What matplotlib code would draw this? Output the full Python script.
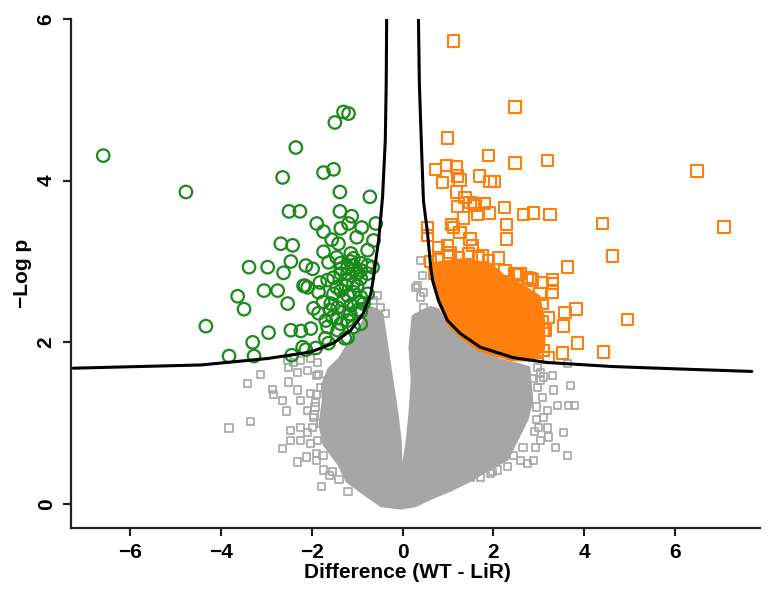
import matplotlib
matplotlib.use("Agg")
import matplotlib.pyplot as plt
import numpy as np

plt.rcParams['font.family'] = ['Liberation Sans', 'DejaVu Sans']

# ---------------- data ----------------
green_x = [-6.59, -4.77, -1.30, -1.19, -1.49, -2.35, -2.64, -1.74, -1.52, -1.38, -0.72,
           -2.50, -2.26, -1.38, -1.12, -1.89, -1.74, -1.36, -1.19, -0.90, -0.59, -1.56,
           -1.41, -1.01, -0.64, -2.68, -2.42, -1.74, -1.45, -1.14, -1.08, -0.92, -0.77,
           -2.46, -2.13, -1.98, -3.38, -2.97, -2.62, -1.63, -1.36, -1.21, -1.08, -2.15,
           -1.82, -3.05, -2.75, -3.63, -3.49, -4.33, -2.53, -2.95, -3.30, -3.82, -3.27,
           -2.46, -2.24, -2.02, -2.44, -2.20, -2.13, -1.91, -1.63, -1.96, -1.85, -2.18,
           -2.09, -1.85, -1.65, -1.43, -1.69, -1.54, -1.36, -1.21, -1.08, -0.92, -1.58,
           -1.43, -1.30, -1.14, -0.99, -0.86, -1.52, -1.36, -1.21, -1.08, -0.92, -0.77,
           -1.65, -1.52, -1.36, -1.21, -1.08, -0.92, -0.77, -1.36, -1.21, -1.08, -0.92,
           -0.77, -0.66, -0.92, -1.21, -1.27, -1.00, -0.97, -1.15, -1.30, -1.45, -1.60,
           -1.25, -1.45, -1.00, -1.15, -1.75, -1.70]
green_y = [4.31, 3.86, 4.85, 4.83, 4.72, 4.41, 4.04, 4.10, 4.14, 3.86, 3.80,
           3.62, 3.62, 3.62, 3.56, 3.47, 3.37, 3.41, 3.47, 3.42, 3.47, 3.27,
           3.22, 3.30, 3.26, 3.22, 3.20, 3.12, 3.05, 3.10, 3.04, 2.98, 3.14,
           3.00, 2.95, 2.91, 2.93, 2.93, 2.86, 2.99, 2.91, 2.85, 2.89, 2.70,
           2.74, 2.64, 2.64, 2.57, 2.41, 2.20, 2.48, 2.12, 2.00, 1.83, 1.83,
           2.15, 2.14, 2.17, 1.84, 1.94, 1.91, 1.93, 1.99, 2.42, 2.36, 2.70,
           2.68, 2.62, 2.19, 2.15, 2.27, 2.31, 2.23, 2.27, 2.19, 2.23, 2.48,
           2.43, 2.52, 2.46, 2.40, 2.48, 2.60, 2.64, 2.58, 2.62, 2.56, 2.60,
           2.77, 2.80, 2.85, 2.77, 2.73, 2.79, 2.85, 2.98, 2.93, 2.95, 2.89,
           2.95, 2.93, 2.38, 2.06, 2.05, 2.70, 2.50, 2.35, 2.38, 2.30, 2.40,
           2.70, 2.68, 2.85, 3.00, 2.50, 2.05]

orange_x = [1.12, 2.48, 0.99, 1.89, 2.48, 3.19, 6.48, 7.08, 4.40, 4.62, 3.63,
            0.73, 0.97, 1.19, 1.21, 0.88, 1.27, 1.69, 1.93, 2.02, 1.19, 1.38,
            1.56, 1.80, 1.49, 1.60, 1.21, 1.34, 1.65, 1.91, 2.24, 2.66, 2.88,
            3.25, 2.29, 2.29, 0.55, 0.55, 1.08, 1.27, 1.49, 1.12, 1.54, 1.76,
            2.11, 3.30, 3.30, 3.03, 2.53, 2.75, 2.86, 4.95, 3.58, 3.82, 3.54,
            3.85, 3.52, 4.42, 3.10, 3.21, 2.97, 3.10, 2.97, 2.48, 2.81, 0.79,
            1.01, 1.23, 1.45, 1.67, 1.89, 2.26, 2.59, 3.08, 3.30, 3.08, 3.21,
            3.08, 3.14, 2.99, 2.77, 2.48, 2.64, 0.79, 0.99, 1.05, 0.62, 0.70]
orange_y = [5.73, 4.91, 4.53, 4.31, 4.22, 4.25, 4.12, 3.43, 3.47, 3.07, 2.93,
            4.14, 4.19, 4.17, 4.06, 3.98, 4.01, 4.06, 3.99, 3.99, 3.86, 3.79,
            3.72, 3.72, 3.73, 3.69, 3.68, 3.54, 3.59, 3.60, 3.67, 3.58, 3.60,
            3.58, 3.46, 3.28, 3.42, 3.32, 3.46, 3.36, 3.28, 3.42, 3.20, 3.07,
            3.04, 2.78, 2.73, 2.60, 2.83, 2.80, 2.77, 2.28, 2.37, 2.41, 2.20,
            1.99, 1.87, 1.88, 2.15, 1.81, 1.88, 1.90, 2.31, 2.85, 2.79, 3.05,
            3.07, 3.04, 3.10, 3.05, 3.01, 2.89, 2.85, 2.74, 2.62, 2.48, 2.31,
            2.25, 2.15, 1.99, 1.94, 1.90, 1.88, 3.17, 3.20, 3.11, 3.00, 2.85]

# outline of the dense (solid-looking) orange cluster
orange_cloud_x = [0.62, 1.27, 1.93, 2.26, 2.70, 3.03, 3.14, 3.14, 2.81, 2.37, 1.71,
                  1.27, 0.99, 0.79, 0.66]
orange_cloud_y = [2.99, 3.04, 2.99, 2.83, 2.70, 2.58, 2.27, 1.90, 1.76, 1.77, 1.88,
                  2.05, 2.21, 2.46, 2.70]

gray_x = [-3.82, -3.34, -3.41, -3.12, -2.86, -2.84, -2.64, -2.55, -2.64, -2.31, -2.11,
          -1.89, -1.78, -1.74, -1.54, -2.51, -2.31, -2.09, -1.89, -2.51, -2.31, -2.24,
          -2.02, -1.91, -2.46, -2.24, -2.09, -2.24, -2.02, -1.87, -2.09, -1.96, -1.80,
          -2.46, -2.53, -2.40, -2.24, -2.02, -1.87, -1.65, -1.80,
          3.63, 3.54, 3.69, 3.65, 3.78, 3.41, 3.30, 3.32, 3.08, 3.19, 3.10, 3.03, 2.97,
          3.19, 3.21, 3.03, 2.92, 3.36, 3.63, 2.59, 2.75, 2.31, 2.09, 1.93, 2.88, 1.98,
          1.27, 1.49, 1.71, 0.99, 0.77, 2.97, 3.03, 3.10,
          -0.55, -0.48, -0.64, -0.37, 0.40, 0.44, 0.29, 0.46, 0.33, 0.40, 0.46, 0.35,
          0.55, 0.68, 0.29, -1.93, -1.98, -1.90, 2.95, 3.00,
          -1.85, -1.90, -1.95, -1.75, -1.60, -1.40, -1.20,
          2.85, 2.95, 2.90, 2.65, 2.45]
gray_y = [0.94, 1.02, 1.49, 1.60, 1.42, 1.35, 1.28, 1.15, 0.69, 0.52, 0.58,
          0.54, 0.22, 0.42, 0.40, 1.69, 1.63, 1.65, 1.59, 1.51, 1.41, 1.28,
          1.37, 1.26, 0.91, 0.95, 0.88, 0.79, 0.75, 0.79, 1.16, 1.07, 1.00,
          0.79, 1.78, 1.75, 1.78, 1.80, 1.75, 1.53, 1.44,
          0.60, 0.88, 1.47, 1.22, 1.22, 1.22, 1.59, 1.41, 1.32, 1.16, 1.07, 1.53, 1.44,
          0.94, 0.83, 0.79, 0.70, 0.70, 1.74, 0.54, 0.50, 0.46, 0.42, 0.38, 0.54, 0.40,
          0.30, 0.33, 0.33, 0.21, 0.17, 1.69, 1.63, 1.57,
          2.58, 2.43, 2.52, 2.36, 3.01, 2.83, 2.68, 2.62, 2.70, 2.56, 2.43, 2.31,
          2.36, 2.23, 1.99, 1.20, 0.95, 0.62, 1.05, 0.95,
          1.60, 1.35, 1.10, 0.60, 0.35, 0.30, 0.15,
          1.55, 1.20, 0.90, 0.70, 0.60]

# outline of the dense gray (non-significant) cloud, V-shaped
gray_cloud_x = [-0.04, -0.48, -0.81, -1.25, -1.43, -1.76, -1.85, -1.78, -1.80, -1.65,
                -1.41, -1.21, -1.01, -0.86, -0.72, -0.55, -0.42, -0.31, -0.20, -0.09,
                -0.02, 0.00, 0.07, 0.13, 0.18, 0.13, 0.20, 0.40, 0.62, 0.80, 0.99,
                1.27, 1.71, 2.15, 2.59, 2.81, 2.88, 2.77, 2.55, 2.33, 1.93, 1.49,
                1.05, 0.62, 0.29]
gray_cloud_y = [-0.07, -0.04, 0.09, 0.27, 0.48, 0.73, 0.98, 1.28, 1.47, 1.68,
                1.81, 2.00, 2.15, 2.30, 2.45, 2.42, 2.36, 1.94, 1.53, 1.12,
                0.79, 0.52, 0.79, 1.12, 1.53, 1.94, 2.33, 2.40, 2.45, 2.42, 2.24,
                2.08, 1.92, 1.80, 1.74, 1.70, 1.28, 1.04, 0.79, 0.54, 0.42, 0.27,
                0.15, 0.05, -0.04]

# significance threshold curve (two branches)
thr_left_x = [-7.25, -4.44, -2.97, -2.02, -1.52, -1.14, -0.86, -0.70, -0.64, -0.52,
              -0.44, -0.38, -0.36, -0.35]
thr_left_y = [1.68, 1.72, 1.80, 1.88, 1.99, 2.15, 2.36, 2.60, 2.80, 3.30, 3.80,
              4.50, 5.20, 6.00]
thr_right_x = [0.35, 0.37, 0.42, 0.46, 0.55, 0.62, 0.66, 0.79, 0.99, 1.27, 1.71,
               2.44, 3.19, 4.64, 6.11, 7.69]
thr_right_y = [6.00, 5.20, 4.37, 3.75, 3.35, 2.93, 2.77, 2.52, 2.27, 2.11, 1.94,
               1.81, 1.75, 1.70, 1.67, 1.64]

xticks = [-6, -4, -2, 0, 2, 4, 6]
yticks = [0, 2, 4, 6]

# ---------------- styling ----------------
GREEN = '#1a8a1a'
ORANGE = '#ff7f0e'
GRAY = '#a6a6a6'

fig = plt.figure(figsize=(7.73, 5.95), dpi=100)
ax = fig.add_axes([71/773, 67/595, 689/773, 509/595])

# gray cloud
ax.fill(gray_cloud_x, gray_cloud_y, color=GRAY, lw=0, zorder=1)
ax.scatter(gray_x, gray_y, marker='s', s=5.2**2, facecolors='none',
           edgecolors=GRAY, linewidths=1.2, zorder=2)

# orange cluster
ax.fill(orange_cloud_x, orange_cloud_y, color=ORANGE, lw=0, zorder=3)
ax.scatter(orange_x, orange_y, marker='s', s=8.3**2, facecolors='none',
           edgecolors=ORANGE, linewidths=1.5, zorder=4)

# green circles
ax.scatter(green_x, green_y, marker='o', s=9.0**2, facecolors='none',
           edgecolors=GREEN, linewidths=1.6, zorder=4)

# threshold curves
ax.plot(thr_left_x, thr_left_y, color='black', lw=2.2, zorder=6,
        solid_capstyle='round')
ax.plot(thr_right_x, thr_right_y, color='black', lw=2.2, zorder=6,
        solid_capstyle='round')

ax.set_xlim(-7.30, 7.87)
ax.set_ylim(-0.297, 6.0)
ax.set_xticks(xticks)
ax.set_yticks(yticks)
ax.set_xticklabels([f"{t}".replace('-', '\u2212') for t in xticks],
                   fontsize=15, fontweight='bold')
ax.set_yticklabels([str(t) for t in yticks], fontsize=15, fontweight='bold',
                   rotation=90, va='center')

for side in ['top', 'right']:
    ax.spines[side].set_visible(False)
for side in ['left', 'bottom']:
    ax.spines[side].set_linewidth(1.6)
    ax.spines[side].set_color('#222222')
ax.tick_params(direction='out', length=6, width=1.6, color='#222222', pad=5)

ax.set_xlabel('Difference (WT - LiR)', fontsize=15, fontweight='bold')
ax.set_ylabel('\u2212Log p', fontsize=15, fontweight='bold')
ax.xaxis.set_label_coords(0.489, -0.068)
ax.yaxis.set_label_coords(-0.057, 0.5)

fig.savefig('out.png', dpi=100)
